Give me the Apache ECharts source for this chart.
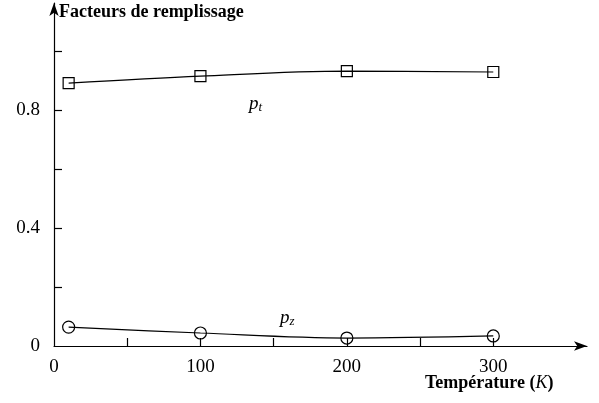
<!DOCTYPE html>
<html>
<head>
<meta charset="utf-8">
<script src="https://cdn.jsdelivr.net/npm/echarts@6/dist/echarts.min.js"></script>
<style>
  html, body { margin: 0; padding: 0; background: #fff; }
  #chart { width: 599px; height: 403px; }
</style>
</head>
<body>
<div id="chart"></div>
<script>
// Temperatures (K) and filling factors
const temperatures = [10, 100, 200, 300];
const ptValues = [0.891, 0.915, 0.932, 0.929];
const pzValues = [0.064, 0.044, 0.027, 0.034];
const xTicks = [50, 100, 150, 200, 250, 300];
const xLabels = [0, 100, 200, 300];
const yTicks = [0.2, 0.4, 0.6, 0.8, 1.0];
const yLabels = [0, 0.4, 0.8];

const serif = '"Liberation Serif", "DejaVu Serif", serif';
const ink = '#000';

const chart = echarts.init(document.getElementById('chart'), null, { renderer: 'canvas' });

function pairs(ys) {
  return temperatures.map((t, i) => [t, ys[i]]);
}

chart.setOption({
  animation: false,
  backgroundColor: '#fff',
  grid: { left: 54, right: 12, top: 3, bottom: 57, containLabel: false },
  xAxis: {
    type: 'value',
    min: 0,
    max: 364,
    splitLine: { show: false },
    axisLine: {
      onZero: false,
      symbol: ['none', 'arrow'],
      symbolSize: [7, 13],
      lineStyle: { color: ink, width: 1.2 }
    },
    axisTick: { inside: true, length: 8, customValues: xTicks, lineStyle: { color: ink, width: 1.2 } },
    axisLabel: {
      customValues: xLabels,
      margin: 12,
      color: ink,
      fontFamily: serif,
      fontSize: 19
    }
  },
  yAxis: {
    type: 'value',
    min: 0,
    max: 1.163,
    splitLine: { show: false },
    axisLine: {
      onZero: false,
      symbol: ['none', 'arrow'],
      symbolSize: [7, 13],
      lineStyle: { color: ink, width: 1.2 }
    },
    axisTick: { inside: true, length: 8, customValues: yTicks, lineStyle: { color: ink, width: 1.2 } },
    axisLabel: {
      customValues: yLabels,
      margin: 14,
      color: ink,
      fontFamily: serif,
      fontSize: 19,
      formatter: v => (v === 0 ? '0' : v.toFixed(1))
    }
  },
  series: [
    {
      name: 'pt',
      type: 'line',
      data: pairs(ptValues),
      smooth: 0.35,
      symbol: 'rect',
      symbolSize: 11,
      lineStyle: { color: ink, width: 1.2 },
      itemStyle: { color: 'rgba(255,255,255,0)', borderColor: ink, borderWidth: 1.2 },
      z: 3
    },
    {
      name: 'pz',
      type: 'line',
      data: pairs(pzValues),
      smooth: 0.35,
      symbol: 'circle',
      symbolSize: 12,
      lineStyle: { color: ink, width: 1.2 },
      itemStyle: { color: 'rgba(255,255,255,0)', borderColor: ink, borderWidth: 1.2 },
      z: 3
    }
  ],
  graphic: [
    {
      type: 'text',
      left: 59,
      top: 3,
      style: {
        text: 'Facteurs de remplissage',
        fill: ink,
        font: 'bold 18px ' + serif
      }
    },
    {
      type: 'text',
      left: 425,
      top: 374,
      style: {
        text: '{b|Température (}{i|K}{b|)}',
        rich: {
          b: { fill: ink, font: 'bold 18px ' + serif },
          i: { fill: ink, font: 'italic 18px ' + serif }
        }
      }
    },
    {
      type: 'text',
      left: 249,
      top: 94,
      style: {
        text: '{p|p}{s|t}',
        rich: {
          p: { fill: ink, font: 'italic 19px ' + serif },
          s: { fill: ink, font: 'italic 13px ' + serif, padding: [8, 0, 0, 0] }
        }
      }
    },
    {
      type: 'text',
      left: 280,
      top: 308,
      style: {
        text: '{p|p}{s|z}',
        rich: {
          p: { fill: ink, font: 'italic 19px ' + serif },
          s: { fill: ink, font: 'italic 13px ' + serif, padding: [8, 0, 0, 0] }
        }
      }
    }
  ]
});
</script>
</body>
</html>
